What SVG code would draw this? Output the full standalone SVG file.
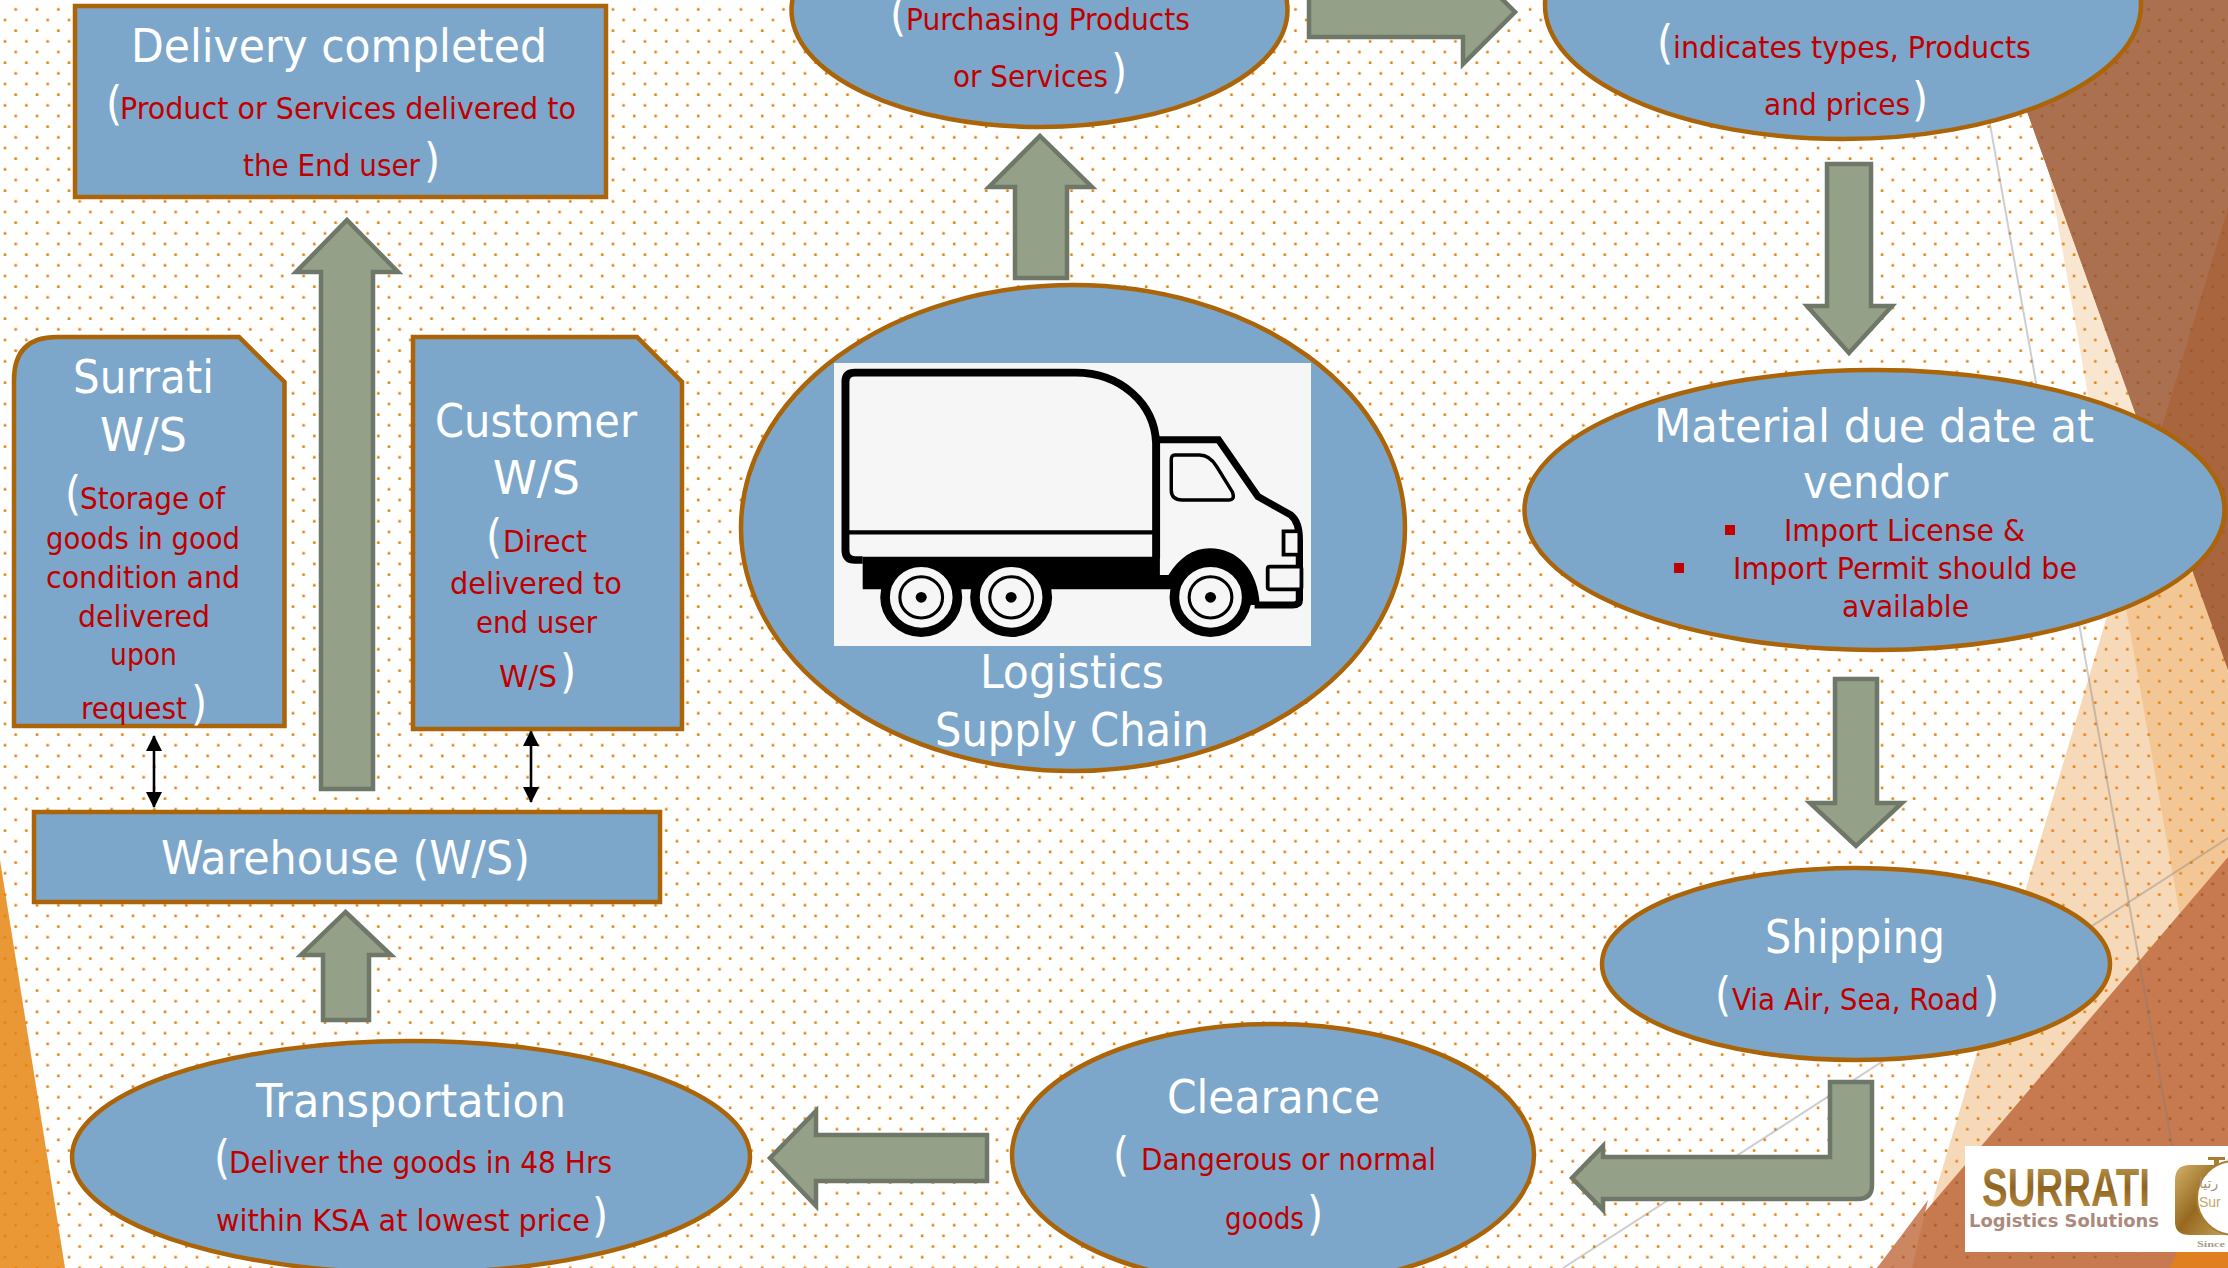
<svg xmlns="http://www.w3.org/2000/svg" width="2228" height="1268" viewBox="0 0 2228 1268">
<style>
text{font-family:"DejaVu Sans","Noto Sans",sans-serif;font-stretch:condensed}
.n{fill:#7da7ca;stroke:#ab6408;stroke-width:4.5}
.a{fill:#94a088;stroke:#6f7868;stroke-width:4.5;stroke-linejoin:miter}
.t{fill:#fff;font-size:46px}
.r{fill:#c00000;font-size:31px}
.p{fill:#fff;font-size:46px}
.g{fill:none;stroke:#7f7f7f;stroke-opacity:.38;stroke-width:2}
.d{stroke:#000;stroke-width:2.6;fill:none;marker-start:url(#h);marker-end:url(#h)}
</style>
<defs>
<pattern id="dots" width="21.33" height="21.33" patternUnits="userSpaceOnUse">
<rect x="14.4" y="8.1" width="2.6" height="2.6" fill="#e48312"/>
<rect x="3.7" y="18.8" width="2.6" height="2.6" fill="#e48312"/>
</pattern>
<pattern id="dotsDark" width="21.33" height="21.33" patternUnits="userSpaceOnUse">
<rect x="14.4" y="8.1" width="2.6" height="2.6" fill="#a0561c" fill-opacity=".8"/>
<rect x="3.7" y="18.8" width="2.6" height="2.6" fill="#a0561c" fill-opacity=".8"/>
</pattern>
<clipPath id="facets"><polygon points="1987,0 2228,0 2228,670"/><polygon points="2228,857 2228,1252 1877,1268 1965,1160"/></clipPath>
<marker id="h" viewBox="0 0 16 16" refX="15" refY="8" markerWidth="16" markerHeight="16" markerUnits="userSpaceOnUse" orient="auto-start-reverse"><path d="M0,0L16,8L0,16Z" fill="#000"/></marker>
<linearGradient id="gold" x1="0" y1="0" x2="0" y2="1"><stop offset="0" stop-color="#c9a55c"/><stop offset=".5" stop-color="#8e6420"/><stop offset="1" stop-color="#c49a4c"/></linearGradient>
<linearGradient id="gold2" x1="0" y1="0" x2="1" y2="1"><stop offset="0" stop-color="#d3b06a"/><stop offset=".5" stop-color="#96691f"/><stop offset="1" stop-color="#c8a15a"/></linearGradient>
</defs>
<rect width="2228" height="1268" fill="#fff"/>
<g id="background">
<polygon points="2036,100 2228,100 2228,1190" fill="#f9e6d0"/>
<polygon points="2200,300 2228,300 2228,1268 1912,1268 1933,1200 2100,640" fill="#f6d9b8"/>
<polygon points="2120,574 2228,574 2228,1190" fill="#f3c795"/>
<polygon points="0,860 65,1268 0,1268" fill="#e99835"/>
<rect width="2228" height="1268" fill="url(#dots)"/>
<polygon points="1987,0 2228,0 2228,670" fill="#a8653e"/>
<polygon points="1987,0 2228,0 2228,208 2152,460" fill="#ab7050"/>
<polygon points="2228,857 2228,1268 1877,1268" fill="#c77a4f"/>
<polygon points="1928,1200 1912,1268 1877,1268" fill="#cc8662"/>
<polygon points="2177,1252 2228,1252 2228,1268 2170,1268" fill="#df7f20"/>
<rect width="2228" height="1268" fill="url(#dotsDark)" clip-path="url(#facets)"/>
<line class="g" x1="1975" y1="40" x2="2180" y2="1190"/>
<line class="g" stroke-opacity=".25" x1="2228" y1="838" x2="1563" y2="1268"/>
</g>
<g id="connectors">
<polygon class="a" points="1040,136 1092,187 1067,187 1067,278 1015,278 1015,187 989,187"/>
<polygon class="a" points="1515,12 1463,-40 1463,-14 1309,-14 1309,37 1463,37 1463,64"/>
<polygon class="a" points="1827,164 1871,164 1871,306 1892,306 1849,353 1807,306 1827,306"/>
<polygon class="a" points="1835,679 1877,679 1877,803 1902,803 1856,846 1810,803 1835,803"/>
<path class="a" d="M1830,1082H1872V1185Q1872,1199 1858,1199H1603V1210L1572,1178L1603,1146V1157H1830Z"/>
<polygon class="a" points="770,1158 816,1111 816,1135 987,1135 987,1181 816,1181 816,1206"/>
<polygon class="a" points="345.500,912 391,955 369,955 369,1020 323,1020 323,955 301,955"/>
<polygon class="a" points="347,220 398,272 373,272 373,789 321,789 321,272 296,272"/>
<line class="d" x1="154" y1="736" x2="154" y2="807"/>
<line class="d" x1="531" y1="731" x2="531" y2="802"/>
</g>
<g id="delivery">
<rect class="n" x="75" y="6" width="531" height="191"/>
<text x="131" y="62" class="t" textLength="416" lengthAdjust="spacingAndGlyphs">Delivery completed</text>
<text y="119"><tspan x="106" class="p">(</tspan><tspan x="120" class="r" textLength="456" lengthAdjust="spacingAndGlyphs">Product or Services delivered to</tspan></text>
<text y="176"><tspan x="243" class="r" textLength="177" lengthAdjust="spacingAndGlyphs">the End user</tspan><tspan x="424" class="p">)</tspan></text>
</g>
<g id="surrati-ws">
<path class="n" d="M14,726H284.500V382L239,337H57Q14,337 14,380Z"/>
<text x="73" y="393" class="t" textLength="141" lengthAdjust="spacingAndGlyphs">Surrati</text>
<text x="100" y="451" class="t" textLength="87" lengthAdjust="spacingAndGlyphs">W/S</text>
<text y="509"><tspan x="65" class="p">(</tspan><tspan x="80" class="r" textLength="145" lengthAdjust="spacingAndGlyphs">Storage of</tspan></text>
<text x="46" y="549" class="r" textLength="194" lengthAdjust="spacingAndGlyphs">goods in good</text>
<text x="46" y="588" class="r" textLength="194" lengthAdjust="spacingAndGlyphs">condition and</text>
<text x="78" y="627" class="r" textLength="132" lengthAdjust="spacingAndGlyphs">delivered</text>
<text x="110" y="665" class="r" textLength="67" lengthAdjust="spacingAndGlyphs">upon</text>
<text y="719"><tspan x="81" class="r" textLength="106" lengthAdjust="spacingAndGlyphs">request</tspan><tspan x="191" class="p">)</tspan></text>
</g>
<g id="customer-ws">
<path class="n" d="M413,729H682V382L637,337H413Z"/>
<text x="435" y="437" class="t" textLength="202" lengthAdjust="spacingAndGlyphs">Customer</text>
<text x="493" y="494" class="t" textLength="87" lengthAdjust="spacingAndGlyphs">W/S</text>
<text y="552"><tspan x="486" class="p">(</tspan><tspan x="503" class="r" textLength="84" lengthAdjust="spacingAndGlyphs">Direct</tspan></text>
<text x="450" y="594" class="r" textLength="172" lengthAdjust="spacingAndGlyphs">delivered to</text>
<text x="476" y="633" class="r" textLength="121" lengthAdjust="spacingAndGlyphs">end user</text>
<text y="687"><tspan x="499" class="r" textLength="58" lengthAdjust="spacingAndGlyphs">W/S</tspan><tspan x="560" class="p">)</tspan></text>
</g>
<g id="warehouse">
<rect class="n" x="34" y="812" width="626" height="90"/>
<text x="161" y="874" class="t" textLength="369" lengthAdjust="spacingAndGlyphs">Warehouse (W/S)</text>
</g>
<g id="transportation">
<ellipse class="n" cx="411" cy="1157" rx="339" ry="116"/>
<text x="256" y="1116.500" class="t" textLength="310" lengthAdjust="spacingAndGlyphs">Transportation</text>
<text y="1173"><tspan x="214" class="p">(</tspan><tspan x="229" class="r" textLength="383" lengthAdjust="spacingAndGlyphs">Deliver the goods in 48 Hrs</tspan></text>
<text y="1231"><tspan x="216" class="r" textLength="374" lengthAdjust="spacingAndGlyphs">within KSA at lowest price</tspan><tspan x="592" class="p">)</tspan></text>
</g>
<g id="clearance">
<ellipse class="n" cx="1273" cy="1155" rx="261" ry="131"/>
<text x="1167" y="1113" class="t" textLength="213" lengthAdjust="spacingAndGlyphs">Clearance</text>
<text y="1170"><tspan x="1113" class="p">(</tspan><tspan x="1141" class="r" textLength="295" lengthAdjust="spacingAndGlyphs">Dangerous or normal</tspan></text>
<text y="1229"><tspan x="1225" class="r" textLength="79" lengthAdjust="spacingAndGlyphs">goods</tspan><tspan x="1307" class="p">)</tspan></text>
</g>
<g id="shipping">
<ellipse class="n" cx="1856" cy="964" rx="254" ry="96"/>
<text x="1765" y="953" class="t" textLength="180" lengthAdjust="spacingAndGlyphs">Shipping</text>
<text y="1010"><tspan x="1715" class="p">(</tspan><tspan x="1732" class="r" textLength="247" lengthAdjust="spacingAndGlyphs">Via Air, Sea, Road</tspan><tspan x="1983" class="p">)</tspan></text>
</g>
<g id="material">
<ellipse class="n" cx="1874.500" cy="510" rx="350" ry="140"/>
<text x="1654" y="442" class="t" textLength="440" lengthAdjust="spacingAndGlyphs">Material due date at</text>
<text x="1803" y="498" class="t" textLength="145" lengthAdjust="spacingAndGlyphs">vendor</text>
<rect x="1725" y="525" width="10" height="10" fill="#c00000"/>
<text x="1784" y="541" class="r" textLength="241" lengthAdjust="spacingAndGlyphs">Import License &amp;</text>
<rect x="1674" y="563" width="10" height="10" fill="#c00000"/>
<text x="1733" y="579" class="r" textLength="344" lengthAdjust="spacingAndGlyphs">Import Permit should be</text>
<text x="1842" y="617" class="r" textLength="127" lengthAdjust="spacingAndGlyphs">available</text>
</g>
<g id="vendor">
<ellipse class="n" cx="1843" cy="5" rx="298" ry="134"/>
<text y="58"><tspan x="1657" class="p">(</tspan><tspan x="1673" class="r" textLength="358" lengthAdjust="spacingAndGlyphs">indicates types, Products</tspan></text>
<text y="115"><tspan x="1764" class="r" textLength="146" lengthAdjust="spacingAndGlyphs">and prices</tspan><tspan x="1912" class="p">)</tspan></text>
</g>
<g id="purchasing">
<ellipse class="n" cx="1039.500" cy="10" rx="248" ry="117"/>
<text y="30"><tspan x="890" class="p">(</tspan><tspan x="906" class="r" textLength="284" lengthAdjust="spacingAndGlyphs">Purchasing Products</tspan></text>
<text y="87"><tspan x="953" class="r" textLength="155" lengthAdjust="spacingAndGlyphs">or Services</tspan><tspan x="1111" class="p">)</tspan></text>
</g>
<g id="logistics">
<ellipse class="n" cx="1073" cy="528" rx="332" ry="243"/>
<rect x="834" y="363" width="477" height="283" fill="#f6f6f6"/>
<g transform="translate(800,340) scale(.3444,.3333)">
<path d="M182,650H1045V705H1070C1100,655 1140,625 1190,625C1270,625 1330,690 1335,795H1080V748H182Z" fill="#000"/>
<path d="M182,660H160Q132,660 132,630V125Q132,98 160,98H800C930,98 1030,190 1034,310V655" fill="none" stroke="#000" stroke-width="23"/>
<path d="M135,577H1030" stroke="#000" stroke-width="13" fill="none"/>
<path d="M1035,299H1215L1330,470L1425,525Q1450,545 1450,600V780Q1450,795 1430,795H1320" fill="none" stroke="#000" stroke-width="21"/>
<path d="M1088,345H1160Q1190,345 1210,380L1255,455Q1265,480 1245,480H1110Q1078,480 1078,450V360Q1078,345 1088,345Z" fill="none" stroke="#000" stroke-width="10"/>
<rect x="1404" y="574" width="46" height="70" fill="#f6f6f6" stroke="#000" stroke-width="11"/>
<rect x="1358" y="680" width="98" height="68" rx="6" fill="#f6f6f6" stroke="#000" stroke-width="11"/>
<g id="wheels" fill="#f6f6f6" stroke="#000">
<circle cx="352" cy="772" r="105" stroke-width="28"/><circle cx="352" cy="772" r="62" stroke-width="9"/><circle cx="352" cy="772" r="16" fill="#000" stroke="none"/>
<circle cx="613" cy="772" r="105" stroke-width="28"/><circle cx="613" cy="772" r="62" stroke-width="9"/><circle cx="613" cy="772" r="16" fill="#000" stroke="none"/>
<circle cx="1192" cy="772" r="105" stroke-width="28"/><circle cx="1192" cy="772" r="62" stroke-width="9"/><circle cx="1192" cy="772" r="16" fill="#000" stroke="none"/>
</g>
</g>
<text x="980" y="688" class="t" textLength="184" lengthAdjust="spacingAndGlyphs">Logistics</text>
<text x="935" y="746" class="t" textLength="274" lengthAdjust="spacingAndGlyphs">Supply Chain</text>
</g>
<g id="logo">
<rect x="1965" y="1146" width="263" height="106" fill="#fff"/>
<text x="1982" y="1206" textLength="168" lengthAdjust="spacingAndGlyphs" style="font-family:'Liberation Sans',sans-serif;font-stretch:normal;font-weight:700;font-size:54px" fill="url(#gold)">SURRATI</text>
<text x="1969" y="1227" textLength="190" lengthAdjust="spacingAndGlyphs" style="font-stretch:normal;font-weight:700;font-size:18px" fill="#ab8a7d">Logistics Solutions</text>
<path d="M2190,1165H2228V1235H2190Q2175,1235 2175,1222V1180Q2175,1165 2190,1165Z" fill="url(#gold2)"/>
<path d="M2208,1157H2225V1160H2219V1166H2214V1160H2208Z" fill="#a87d32"/>
<circle cx="2234" cy="1198" r="31" fill="none" stroke="#7d5a1c" stroke-width="5" stroke-dasharray="5 5"/>
<circle cx="2234" cy="1198" r="37" fill="#fff" stroke="#a87d32" stroke-width="2"/>
<text x="2199" y="1188" style="font-size:14px;font-stretch:normal" fill="#a89070">رتيا</text>
<text x="2199" y="1207" style="font-family:'Liberation Sans',sans-serif;font-stretch:normal;font-size:14px" fill="#c2a66a">Sur</text>
<text x="2197" y="1247" textLength="28" lengthAdjust="spacingAndGlyphs" style="font-family:'Liberation Serif',serif;font-stretch:normal;font-weight:700;font-size:9px" fill="#a79c8c">Since</text>
</g>
</svg>
